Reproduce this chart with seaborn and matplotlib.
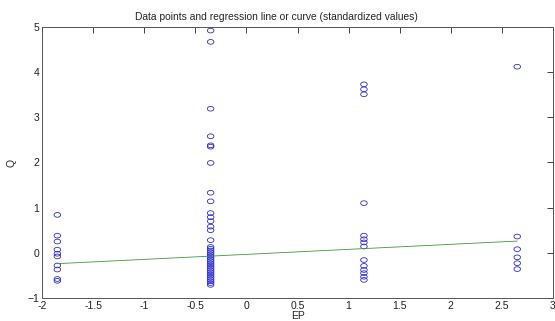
import numpy as np
import pandas as pd
import matplotlib
matplotlib.use("Agg")
import matplotlib.pyplot as plt
import seaborn as sns
from matplotlib.path import Path

# standardized EP levels and Q values
ep_levels = [-1.85, -0.35, 1.15, 2.65]
q_ep1 = [0.84, 0.38, 0.25, 0.07, -0.02, -0.08, -0.28, -0.37, -0.58, -0.62]
q_ep2 = [4.92, 4.67, 3.19, 2.58, 2.38, 2.35, 1.99, 1.33, 1.14, 0.88, 0.79,
         0.70, 0.58, 0.50, 0.28, 0.13, 0.09, 0.05, 0.01, -0.03, -0.07, -0.11,
         -0.15, -0.19, -0.23, -0.27, -0.31, -0.35, -0.39, -0.43, -0.47, -0.51,
         -0.55, -0.59, -0.63, -0.67, -0.71]
q_ep3 = [3.73, 3.62, 3.51, 1.10, 0.38, 0.30, 0.23, 0.14, -0.16, -0.29, -0.38,
         -0.45, -0.53, -0.60]
q_ep4 = [4.12, 0.36, 0.08, -0.10, -0.23, -0.36]

# regression line end points
line_x = [-1.85, 2.65]
line_y = [-0.24, 0.26]

groups = [q_ep1, q_ep2, q_ep3, q_ep4]
df = pd.DataFrame({
    "EP": np.concatenate([[ep] * len(q) for ep, q in zip(ep_levels, groups)]),
    "Q": np.concatenate(groups),
})
line_df = pd.DataFrame({"EP": line_x, "Q": line_y})

sns.set_style("white")
plt.rcParams["font.family"] = ["Liberation Sans", "DejaVu Sans"]

fig = plt.figure(figsize=(5.55, 3.21), dpi=100)
ax = fig.add_axes([0.0757, 0.0717, 0.9207, 0.8443])

# slightly squashed circle, like the resized original
t = np.linspace(0, 2 * np.pi, 40)
ellipse = Path(np.column_stack([np.cos(t), 0.72 * np.sin(t)]), closed=True)

sns.scatterplot(data=df, x="EP", y="Q", marker=ellipse, s=22,
                facecolors="none", edgecolor="#2b2bd0", linewidth=0.6, ax=ax)
for c in ax.collections:
    c.set_facecolor("none")
sns.lineplot(data=line_df, x="EP", y="Q", color="#3f963f", linewidth=0.6, ax=ax)

ax.set_xlim(-2, 3)
ax.set_ylim(-1, 5)
ax.set_xticks(np.arange(-2, 3.01, 0.5))
ax.set_xticklabels(["-2", "-1.5", "-1", "-0.5", "0", "0.5", "1", "1.5", "2", "2.5", "3"])
ax.set_yticks(range(-1, 6))
ax.tick_params(direction="in", length=4, width=0.6, labelsize=7.5, colors="#222222",
               top=True, right=True, pad=2)
for s in ax.spines.values():
    s.set_linewidth(0.7)
    s.set_color("#555555")

ax.set_xlabel("EP", fontsize=7.5, labelpad=0)
ax.set_ylabel("Q", fontsize=7.5, labelpad=8)
ax.set_title("Data points and regression line or curve (standardized values)",
             fontsize=7.4, pad=5, x=0.459)

fig.savefig("out.png", dpi=100)
